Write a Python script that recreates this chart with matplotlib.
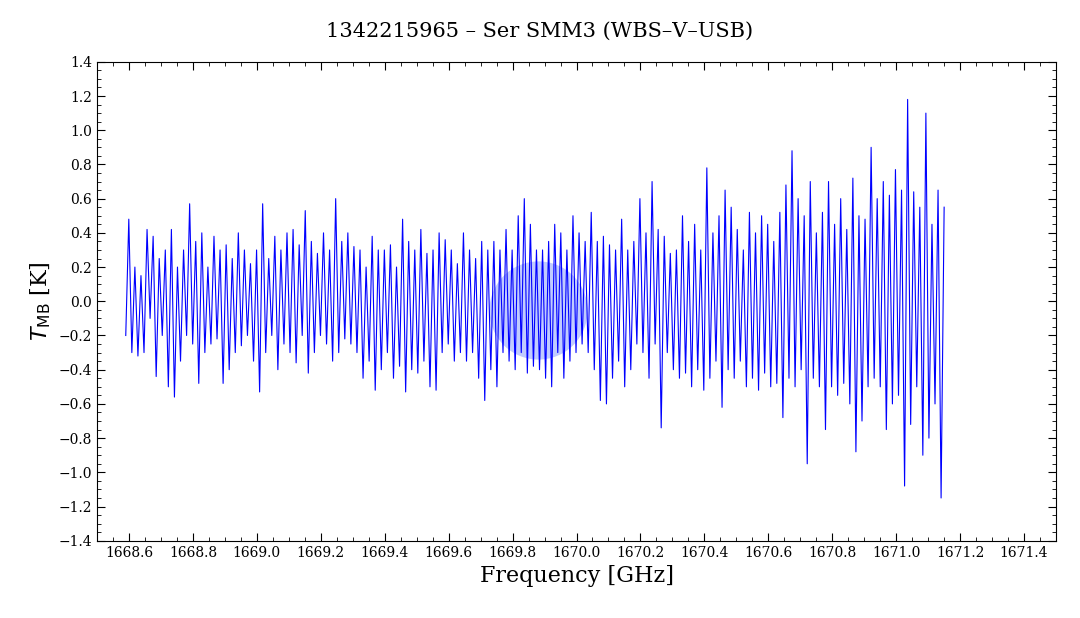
import numpy as np
import matplotlib.pyplot as plt
from matplotlib.ticker import MultipleLocator

# Spectrum samples, evenly spaced from 1668.59 to 1671.15 GHz
freq_start = 1668.59
freq_end = 1671.15
t_mb = [
    -0.2, 0.48, -0.3, 0.2, -0.32, 0.15, -0.3, 0.42, -0.1, 0.38, -0.44, 0.25, -0.2, 0.3, -0.5, 0.42,
    -0.56, 0.2, -0.35, 0.3, -0.2, 0.57, -0.25, 0.35, -0.48, 0.4, -0.3, 0.2, -0.25, 0.38, -0.22, 0.3,
    -0.48, 0.33, -0.4, 0.25, -0.3, 0.4, -0.26, 0.3, -0.2, 0.22, -0.35, 0.3, -0.53, 0.57, -0.3, 0.25,
    -0.2, 0.38, -0.4, 0.3, -0.25, 0.4, -0.3, 0.42, -0.36, 0.33, -0.2, 0.53, -0.42, 0.35, -0.3, 0.28,
    -0.2, 0.4, -0.25, 0.3, -0.35, 0.6, -0.3, 0.35, -0.22, 0.4, -0.25, 0.32, -0.3, 0.3, -0.45, 0.2,
    -0.35, 0.38, -0.52, 0.3, -0.4, 0.3, -0.3, 0.33, -0.45, 0.2, -0.38, 0.48, -0.53, 0.35, -0.4, 0.3,
    -0.42, 0.42, -0.35, 0.28, -0.5, 0.3, -0.52, 0.4, -0.3, 0.36, -0.25, 0.3, -0.35, 0.22, -0.3, 0.4,
    -0.35, 0.3, -0.3, 0.25, -0.45, 0.35, -0.58, 0.3, -0.4, 0.35, -0.5, 0.3, -0.3, 0.42, -0.35, 0.3,
    -0.4, 0.5, -0.3, 0.6, -0.42, 0.45, -0.38, 0.3, -0.4, 0.3, -0.45, 0.35, -0.5, 0.45, -0.3, 0.4,
    -0.45, 0.3, -0.35, 0.5, -0.3, 0.4, -0.25, 0.35, -0.3, 0.52, -0.4, 0.35, -0.58, 0.38, -0.6, 0.33,
    -0.45, 0.3, -0.35, 0.48, -0.5, 0.3, -0.4, 0.35, -0.25, 0.6, -0.3, 0.4, -0.45, 0.7, -0.25, 0.42,
    -0.74, 0.38, -0.3, 0.28, -0.4, 0.3, -0.45, 0.5, -0.42, 0.35, -0.5, 0.45, -0.4, 0.3, -0.52, 0.78,
    -0.45, 0.4, -0.35, 0.5, -0.62, 0.65, -0.4, 0.55, -0.45, 0.42, -0.35, 0.3, -0.5, 0.52, -0.45, 0.4,
    -0.52, 0.5, -0.42, 0.45, -0.5, 0.35, -0.48, 0.52, -0.68, 0.68, -0.45, 0.88, -0.5, 0.6, -0.4, 0.5,
    -0.95, 0.7, -0.45, 0.4, -0.5, 0.52, -0.75, 0.7, -0.5, 0.45, -0.55, 0.6, -0.48, 0.42, -0.6, 0.72,
    -0.88, 0.5, -0.7, 0.48, -0.5, 0.9, -0.45, 0.6, -0.5, 0.7, -0.75, 0.62, -0.6, 0.77, -0.55, 0.65,
    -1.08, 1.18, -0.72, 0.64, -0.5, 0.55, -0.9, 1.1, -0.8, 0.45, -0.6, 0.65, -1.15, 0.55,
]
freq = np.linspace(freq_start, freq_end, len(t_mb))

plt.rcParams['font.family'] = ['DejaVu Serif']
fig = plt.figure(figsize=(10.8, 6.18), dpi=100)
ax = fig.add_axes([0.0898, 0.125, 0.888, 0.775])

ax.plot(freq, t_mb, color="blue", linewidth=0.8)
ax.scatter([1669.88], [-0.05], s=5000, color="#3355ff", alpha=0.3, linewidths=0)

ax.set_xlim(1668.5, 1671.5)
ax.set_ylim(-1.4, 1.4)
ax.xaxis.set_major_locator(MultipleLocator(0.2))
ax.xaxis.set_minor_locator(MultipleLocator(0.05))
ax.yaxis.set_major_locator(MultipleLocator(0.2))
ax.yaxis.set_minor_locator(MultipleLocator(0.05))
ax.xaxis.set_major_formatter(plt.FuncFormatter(lambda v, p: f"{v:.1f}"))
ax.yaxis.set_major_formatter(plt.FuncFormatter(lambda v, p: f"{v:.1f}".replace("-", "\u2212")))
ax.tick_params(which="both", direction="in", top=True, right=True, labelsize=10)
ax.tick_params(which="major", length=6)
ax.tick_params(which="minor", length=3)

ax.set_xlabel("Frequency [GHz]", fontsize=16)
ax.set_ylabel(r"$T_{\rm MB}$ [K]", fontsize=16)
fig.suptitle("1342215965 \u2013 Ser SMM3 (WBS\u2013V\u2013USB)", fontsize=15, y=0.965)

fig.savefig("out.png", dpi=100)
